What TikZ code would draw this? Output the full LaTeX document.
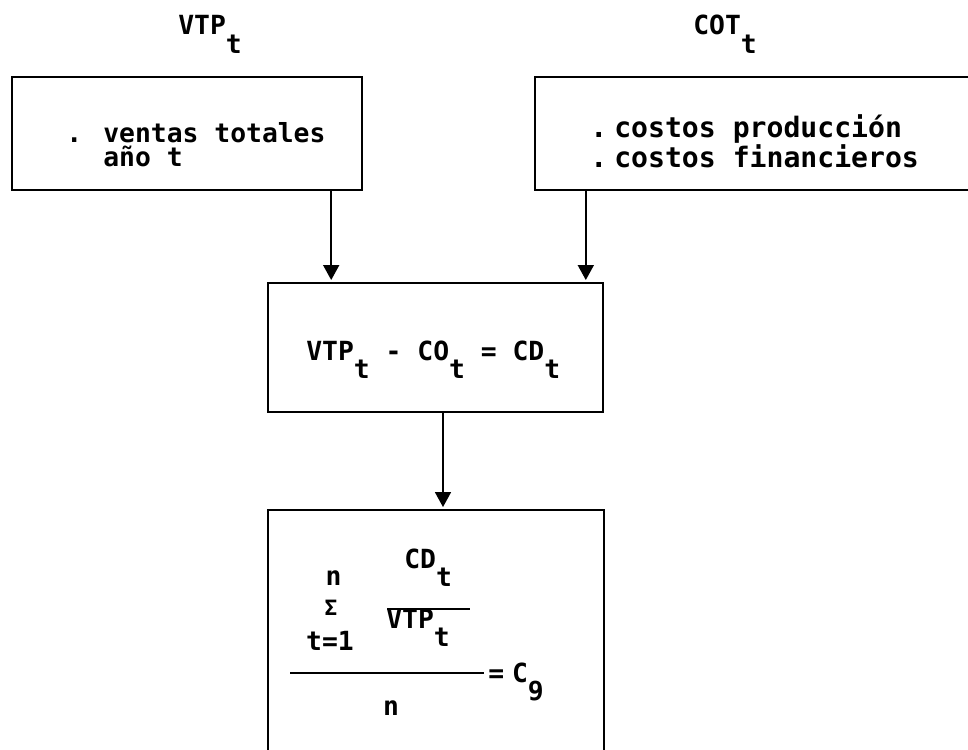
\documentclass[tikz,border=0pt]{standalone}
\usepackage{fontspec}
\usepackage{tikz}
\usetikzlibrary{arrows.meta}
\newfontfamily\typewr{DejaVu Sans Mono}
\newcommand{\lowered}[1]{\raisebox{-0.7em}{#1}}

\begin{document}
\begin{tikzpicture}[x=0.02cm, y=-0.02cm,
  box/.style={draw, line width=1.4pt, inner sep=0pt},
  txt/.style={anchor=base west, inner sep=0pt, align=left,
              font=\typewr\bfseries\fontsize{15}{13.7}\selectfont},
  bigtxt/.style={txt, font=\typewr\bfseries\fontsize{16}{17.6}\selectfont},
  arr/.style={-{Triangle[length=3mm, width=3.2mm]}, line width=1pt, shorten >=1pt},
  bar/.style={line width=1.3pt}]
  \useasboundingbox (0,0) rectangle (968,750);
  \clip (0,0) rectangle (968,750);
  % top labels
  \node[txt] (vtplabel) at (178,35) {VTP\lowered{t}};
  \node[txt] (cotlabel) at (693,35) {COT\lowered{t}};
  % input boxes
  \node[box, minimum width=7cm, minimum height=2.26cm] (vtpbox) at (187,133.5) {};
  \node[box, minimum width=9.3cm, minimum height=2.26cm] (cotbox) at (767.5,133.5) {};
  \node[txt] (ventas) at (66,167) {. ventas totales\\\hphantom{. }año t};
  \node[bigtxt] (costos) at (590,168) {.\kern0.25em costos producción\\.\kern0.25em costos financieros};
  % difference box
  \node[box, minimum width=6.7cm, minimum height=2.58cm] (cdbox) at (435.5,347.5) {};
  \node[txt] (diff) at (306,360) {VTP\lowered{t} - CO\lowered{t} = CD\lowered{t}};
  % coefficient box (runs off the page)
  \node[box, minimum width=6.72cm, minimum height=5.8cm] (cgbox) at (436,655) {};
  \node[txt, anchor=base] (sumtop) at (333.5,585) {n};
  \node[txt, anchor=base, font=\typewr\bfseries\fontsize{12}{14}\selectfont] (sigma) at (331,615) {Σ};
  \node[txt, anchor=base] (sumidx) at (330,650) {t=1};
  \node[txt] (cdnum) at (404,568) {CD\lowered{t}};
  \node[txt] (vtpden) at (386,628) {VTP\lowered{t}};
  \node[txt] (result) at (488,682) {=\kern0.3em C\lowered{9}};
  \node[txt, anchor=base] (ndiv) at (391,715) {n};
  \draw[bar] (387,609) -- (470,609);
  \draw[bar] (290,673) -- (484,673);
  % connectors
  \draw[arr] ([xshift=-0.64cm]vtpbox.south east) -- ([xshift=-0.64cm]vtpbox.south east |- cdbox.north);
  \draw[arr] ([xshift=1.04cm]cotbox.south west) -- ([xshift=1.04cm]cotbox.south west |- cdbox.north);
  \draw[arr] ([xshift=0.15cm]cdbox.south) -- ([xshift=0.15cm]cdbox.south |- cgbox.north);
\end{tikzpicture}
\end{document}
